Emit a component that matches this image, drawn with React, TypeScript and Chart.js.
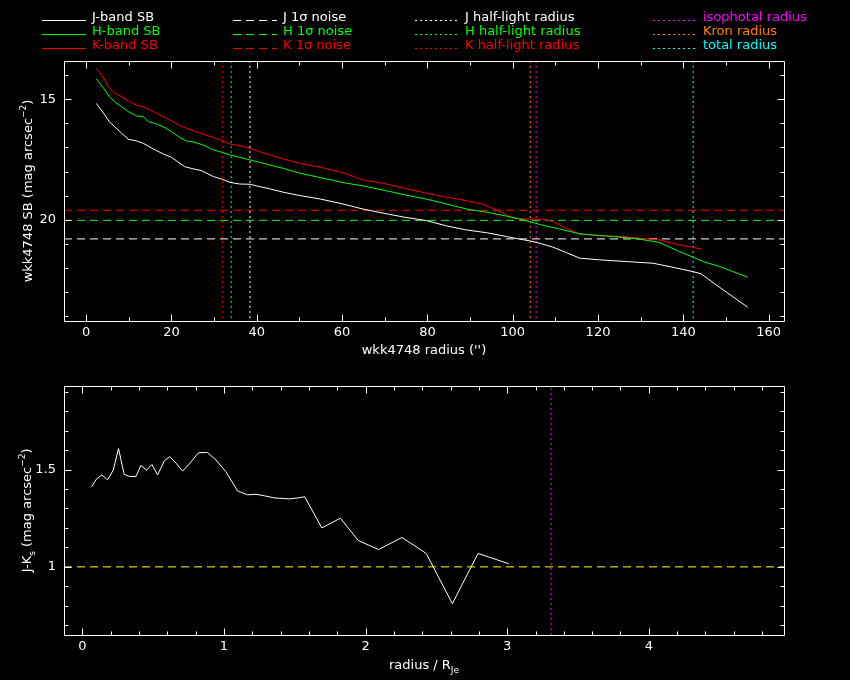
import { useEffect, useRef } from "react";
import { Chart, registerables, type ChartConfiguration, type Plugin } from "chart.js";

Chart.register(...registerables);

const FONT = "DejaVu Sans";
const FONT_SIZE = 13;

// surface brightness profiles (radius in arcsec, mag arcsec^-2)
const jRadius = [2.35, 3.2, 4.38, 5.4, 6.7, 8.3, 9.85, 11.8, 13.4, 15.7, 18.05, 20, 21.96, 23.1, 25.1, 27, 29.8, 31.7, 33.7, 36, 38.4, 40.7, 43.05, 46.2, 50.1, 54.8, 60.2, 64.9, 69.6, 74.7, 79.8, 84.5, 89.2, 93.8, 98.5, 101.6, 104, 106.3, 109.4, 112.6, 115.7, 120.4, 126.6, 132.9, 137.6, 142.3, 144.2, 147.7, 151.6, 155.1];
const jSB = [15.17, 15.37, 15.65, 15.93, 16.14, 16.41, 16.66, 16.73, 16.83, 17.06, 17.27, 17.41, 17.66, 17.8, 17.89, 17.96, 18.21, 18.31, 18.45, 18.52, 18.53, 18.63, 18.72, 18.86, 19.0, 19.14, 19.35, 19.56, 19.73, 19.9, 20.04, 20.26, 20.43, 20.54, 20.7, 20.81, 20.88, 20.98, 21.14, 21.37, 21.6, 21.67, 21.74, 21.81, 21.98, 22.16, 22.25, 22.71, 23.2, 23.64];

const hRadius = [2.35, 3.2, 4.38, 5.4, 6.7, 8.3, 9.85, 11.8, 13.4, 14.6, 16.5, 18.05, 20, 21.96, 23.5, 25.5, 27.4, 29.8, 31.7, 33.7, 36, 38.4, 40.7, 43.05, 46.2, 50.1, 54.8, 60.2, 64.9, 69.6, 74.7, 79.8, 84.5, 89.2, 93.8, 98.5, 101.6, 104, 106.3, 111, 115.7, 123.5, 129.8, 134.4, 139.1, 142.3, 144.6, 148.5, 155.1];
const hSB = [14.16, 14.34, 14.61, 14.89, 15.1, 15.31, 15.51, 15.69, 15.73, 15.93, 16.02, 16.14, 16.35, 16.59, 16.73, 16.79, 16.9, 17.1, 17.2, 17.31, 17.41, 17.52, 17.62, 17.73, 17.87, 18.07, 18.25, 18.46, 18.6, 18.77, 18.97, 19.15, 19.35, 19.56, 19.69, 19.85, 19.97, 20.08, 20.2, 20.39, 20.59, 20.7, 20.81, 20.95, 21.33, 21.56, 21.74, 21.95, 22.39];

const kRadius = [2.35, 3.2, 4.15, 5.16, 6.7, 8.3, 9.85, 11.8, 13.4, 15.7, 18.05, 20, 21.96, 23.5, 25.9, 27.4, 29.8, 31.7, 33.7, 36, 38.4, 40.7, 43.05, 46.2, 50.1, 54.8, 60.2, 64.9, 69.6, 74.7, 79.8, 84.5, 89.2, 93, 96.2, 98.5, 100.1, 104, 107.1, 109.4, 112.6, 115.7, 120.4, 125.8, 129.8, 134.4, 139.1, 142.3, 144.4];
const kSB = [13.74, 13.88, 14.13, 14.48, 14.75, 14.89, 15.07, 15.24, 15.31, 15.51, 15.72, 15.9, 16.1, 16.2, 16.35, 16.45, 16.59, 16.7, 16.86, 16.93, 17.04, 17.18, 17.31, 17.48, 17.66, 17.82, 18.05, 18.35, 18.49, 18.7, 18.9, 19.07, 19.21, 19.36, 19.6, 19.8, 19.94, 19.98, 19.98, 20.08, 20.36, 20.6, 20.67, 20.7, 20.77, 20.84, 21.05, 21.15, 21.23];

const noiseLabels = ["J 1σ noise", "H 1σ noise", "K 1σ noise"];
const noiseLevels = [20.8, 20.03, 19.61];

const radiusLabels = ["J half-light radius", "H half-light radius", "K half-light radius", "isophotal radius", "Kron radius", "total radius"];
const radiusValues = [38.4, 34.0, 31.9, 105.5, 104.1, 142.3];

const sbXTicks = [0, 20, 40, 60, 80, 100, 120, 140, 160];
const sbYTicks = [15, 20];
const SB_X_MIN = -5.2;
const SB_X_MAX = 163.6;
const SB_Y_MIN = 13.41;
const SB_Y_MAX = 24.21;

// J-Ks colour profile
const colourRadius = [0.065, 0.1, 0.138, 0.178, 0.218, 0.255, 0.295, 0.335, 0.378, 0.413, 0.453, 0.491, 0.531, 0.58, 0.618, 0.661, 0.708, 0.755, 0.821, 0.884, 0.943, 1.014, 1.096, 1.167, 1.226, 1.285, 1.356, 1.461, 1.532, 1.57, 1.691, 1.822, 1.949, 2.092, 2.257, 2.428, 2.613, 2.794, 3.011];
const colourJK = [1.411, 1.452, 1.472, 1.447, 1.497, 1.608, 1.475, 1.464, 1.464, 1.521, 1.497, 1.526, 1.472, 1.546, 1.566, 1.533, 1.492, 1.529, 1.587, 1.587, 1.549, 1.488, 1.39, 1.37, 1.373, 1.365, 1.354, 1.349, 1.355, 1.36, 1.2, 1.25, 1.135, 1.089, 1.151, 1.069, 0.811, 1.069, 1.016];
const colourReference = 1;
const colourIsoRadius = 3.31;

const colourXTicks = [0, 1, 2, 3, 4];
const colourYTicks = [1, 1.5];
const CJ_X_MIN = -0.13;
const CJ_X_MAX = 4.955;
const CJ_Y_MIN = 0.65;
const CJ_Y_MAX = 1.93;

const WHITE = "#ffffff";
const GREEN = "#00ff00";
const RED = "#ff0000";
const bandColours = [WHITE, GREEN, RED];
const radiusColours = [WHITE, GREEN, RED, "#ff00ff", "#ff8000", "#00ffff"];
const DASH = [8, 5];
const DOT = [2, 3];

type Piece = { t: string; dy?: number; s?: number };

function drawRich(
  ctx: CanvasRenderingContext2D,
  pieces: Piece[],
  cx: number,
  cy: number,
  rotated: boolean,
) {
  ctx.save();
  ctx.translate(cx, cy);
  if (rotated) ctx.rotate(-Math.PI / 2);
  ctx.fillStyle = WHITE;
  ctx.textBaseline = "middle";
  ctx.textAlign = "left";
  const fontFor = (p: Piece) => `${Math.round(FONT_SIZE * (p.s ?? 1))}px "${FONT}"`;
  const widths = pieces.map((p) => {
    ctx.font = fontFor(p);
    return ctx.measureText(p.t).width;
  });
  let x = -widths.reduce((a, b) => a + b, 0) / 2;
  pieces.forEach((p, i) => {
    ctx.font = fontFor(p);
    ctx.fillText(p.t, x, (p.dy ?? 0) * FONT_SIZE);
    x += widths[i];
  });
  ctx.restore();
}

const isMultiple = (v: number, step: number) =>
  Math.abs(v / step - Math.round(v / step)) < 1e-6;

function frameTicks(minorX: number, majorX: number, minorY: number, majorY: number): Plugin {
  return {
    id: "frameTicks",
    afterDatasetsDraw(chart) {
      const { ctx, chartArea: a } = chart;
      const xs = chart.scales.x;
      const ys = chart.scales.y;
      const L = Math.round(a.left) + 0.5;
      const R = Math.round(a.right) + 0.5;
      const T = Math.round(a.top) + 0.5;
      const B = Math.round(a.bottom) + 0.5;
      ctx.save();
      ctx.strokeStyle = WHITE;
      ctx.lineWidth = 1;
      ctx.setLineDash([]);
      ctx.beginPath();
      ctx.rect(L, T, R - L, B - T);
      for (let i = Math.ceil(xs.min / minorX - 1e-9); i * minorX <= xs.max + 1e-9; i++) {
        const v = i * minorX;
        const len = isMultiple(v, majorX) ? 7 : 4;
        const px = Math.round(xs.getPixelForValue(v)) + 0.5;
        ctx.moveTo(px, B);
        ctx.lineTo(px, B - len);
        ctx.moveTo(px, T);
        ctx.lineTo(px, T + len);
      }
      for (let i = Math.ceil(ys.min / minorY - 1e-9); i * minorY <= ys.max + 1e-9; i++) {
        const v = i * minorY;
        const len = isMultiple(v, majorY) ? 7 : 4;
        const py = Math.round(ys.getPixelForValue(v)) + 0.5;
        ctx.moveTo(L, py);
        ctx.lineTo(L + len, py);
        ctx.moveTo(R, py);
        ctx.lineTo(R - len, py);
      }
      ctx.stroke();
      ctx.restore();
    },
  };
}

function axisTitles(xTitle: Piece[], xY: number, yTitle: Piece[], yX: number): Plugin {
  return {
    id: "axisTitles",
    afterDraw(chart) {
      const { ctx, chartArea: a } = chart;
      drawRich(ctx, xTitle, (a.left + a.right) / 2, xY, false);
      drawRich(ctx, yTitle, yX, (a.top + a.bottom) / 2, true);
    },
  };
}

const legendColumns = [42, 233, 415, 653];
const legendRows = [20, 34, 48];

const legendPlugin: Plugin = {
  id: "pgLegend",
  afterDraw(chart) {
    const { ctx } = chart;
    ctx.save();
    ctx.font = `${FONT_SIZE}px "${FONT}"`;
    ctx.textBaseline = "alphabetic";
    ctx.textAlign = "left";
    chart.data.datasets.forEach((ds, i) => {
      const x = legendColumns[Math.floor(i / 3)];
      const y = legendRows[i % 3];
      const colour = ds.borderColor as string;
      ctx.strokeStyle = colour;
      ctx.lineWidth = 1;
      ctx.setLineDash(((ds as { borderDash?: number[] }).borderDash) ?? []);
      ctx.beginPath();
      ctx.moveTo(x, y + 0.5);
      ctx.lineTo(x + 44, y + 0.5);
      ctx.stroke();
      ctx.fillStyle = colour;
      ctx.fillText(ds.label ?? "", x + 50, y + 1);
    });
    ctx.restore();
  },
};

const toPoints = (xs: number[], ys: number[]) => xs.map((x, i) => ({ x, y: ys[i] }));

const tickFont = { family: FONT, size: FONT_SIZE };

function axes(
  xMin: number,
  xMax: number,
  xTicks: number[],
  xHeight: number,
  yMin: number,
  yMax: number,
  yTicks: number[],
  reverse: boolean,
) {
  return {
    x: {
      type: "linear" as const,
      min: xMin,
      max: xMax,
      grid: { display: false, drawTicks: false },
      border: { display: false },
      afterBuildTicks(scale: { ticks: { value: number }[] }) {
        scale.ticks = xTicks.map((value) => ({ value }));
      },
      afterFit(scale: { height: number }) {
        scale.height = xHeight;
      },
      ticks: {
        color: WHITE,
        font: tickFont,
        padding: 4,
        autoSkip: false,
        maxRotation: 0,
        callback: (value: number | string) => String(value),
      },
    },
    y: {
      type: "linear" as const,
      min: yMin,
      max: yMax,
      reverse,
      grid: { display: false, drawTicks: false },
      border: { display: false },
      afterBuildTicks(scale: { ticks: { value: number }[] }) {
        scale.ticks = yTicks.map((value) => ({ value }));
      },
      afterFit(scale: { width: number }) {
        scale.width = 64;
      },
      ticks: {
        color: WHITE,
        font: tickFont,
        padding: 8,
        autoSkip: false,
        callback: (value: number | string) => String(value),
      },
    },
  };
}

export default function App() {
  const topRef = useRef<HTMLCanvasElement | null>(null);
  const bottomRef = useRef<HTMLCanvasElement | null>(null);

  useEffect(() => {
    if (!topRef.current || !bottomRef.current) return;

    const sbDatasets = [
      ...["J-band SB", "H-band SB", "K-band SB"].map((label, i) => ({
        label,
        data: toPoints([jRadius, hRadius, kRadius][i], [jSB, hSB, kSB][i]),
        borderColor: bandColours[i],
        borderWidth: 1,
        pointRadius: 0,
        tension: 0,
      })),
      ...noiseLabels.map((label, i) => ({
        label,
        data: [
          { x: SB_X_MIN, y: noiseLevels[i] },
          { x: SB_X_MAX, y: noiseLevels[i] },
        ],
        borderColor: bandColours[i],
        borderWidth: 1,
        borderDash: DASH,
        pointRadius: 0,
      })),
      ...radiusLabels.map((label, i) => ({
        label,
        data: [
          { x: radiusValues[i], y: SB_Y_MIN },
          { x: radiusValues[i], y: SB_Y_MAX },
        ],
        borderColor: radiusColours[i],
        borderWidth: 1,
        borderDash: DOT,
        pointRadius: 0,
      })),
    ];

    const topConfig: ChartConfiguration<"line"> = {
      type: "line",
      data: { datasets: sbDatasets },
      options: {
        responsive: false,
        animation: false,
        events: [],
        layout: { padding: { left: 0, right: 66, top: 61, bottom: 0 } },
        plugins: { legend: { display: false }, tooltip: { enabled: false } },
        scales: axes(SB_X_MIN, SB_X_MAX, sbXTicks, 49, SB_Y_MIN, SB_Y_MAX, sbYTicks, true) as never,
      },
      plugins: [
        frameTicks(10, 20, 1, 5),
        legendPlugin,
        axisTitles(
          [{ t: "wkk4748 radius ('')" }],
          351,
          [{ t: "wkk4748 SB (mag arcsec" }, { t: "−2", dy: -0.4, s: 0.72 }, { t: ")" }],
          29,
        ),
      ],
    };

    const bottomConfig: ChartConfiguration<"line"> = {
      type: "line",
      data: {
        datasets: [
          {
            label: "J-Ks",
            data: toPoints(colourRadius, colourJK),
            borderColor: WHITE,
            borderWidth: 1,
            pointRadius: 0,
            tension: 0,
          },
          {
            label: "J-Ks = 1",
            data: [
              { x: CJ_X_MIN, y: colourReference },
              { x: CJ_X_MAX, y: colourReference },
            ],
            borderColor: "#ffff00",
            borderWidth: 1,
            borderDash: DASH,
            pointRadius: 0,
          },
          {
            label: "isophotal radius",
            data: [
              { x: colourIsoRadius, y: CJ_Y_MIN },
              { x: colourIsoRadius, y: CJ_Y_MAX },
            ],
            borderColor: "#ff00ff",
            borderWidth: 1,
            borderDash: DOT,
            pointRadius: 0,
          },
        ],
      },
      options: {
        responsive: false,
        animation: false,
        events: [],
        layout: { padding: { left: 0, right: 66, top: 5, bottom: 0 } },
        plugins: { legend: { display: false }, tooltip: { enabled: false } },
        scales: axes(CJ_X_MIN, CJ_X_MAX, colourXTicks, 45, CJ_Y_MIN, CJ_Y_MAX, colourYTicks, false) as never,
      },
      plugins: [
        frameTicks(0.2, 1, 0.1, 0.5),
        axisTitles(
          [{ t: "radius / R" }, { t: "Je", dy: 0.35, s: 0.72 }],
          296,
          [
            { t: "J-K" },
            { t: "s", dy: 0.35, s: 0.72 },
            { t: " (mag arcsec" },
            { t: "−2", dy: -0.4, s: 0.72 },
            { t: ")" },
          ],
          28,
        ),
      ],
    };

    const top = new Chart(topRef.current, topConfig);
    const bottom = new Chart(bottomRef.current, bottomConfig);

    return () => {
      top.destroy();
      bottom.destroy();
    };
  }, []);

  return (
    <div
      style={{
        position: "absolute",
        left: 0,
        top: 0,
        width: 850,
        height: 680,
        background: "#000",
        overflow: "hidden",
      }}
    >
      <canvas
        ref={topRef}
        width={850}
        height={370}
        style={{ position: "absolute", left: 0, top: 0 }}
        role="img"
        aria-label="Surface brightness profiles of wkk4748"
      />
      <canvas
        ref={bottomRef}
        width={850}
        height={310}
        style={{ position: "absolute", left: 0, top: 370 }}
        role="img"
        aria-label="J-Ks colour profile"
      />
    </div>
  );
}
